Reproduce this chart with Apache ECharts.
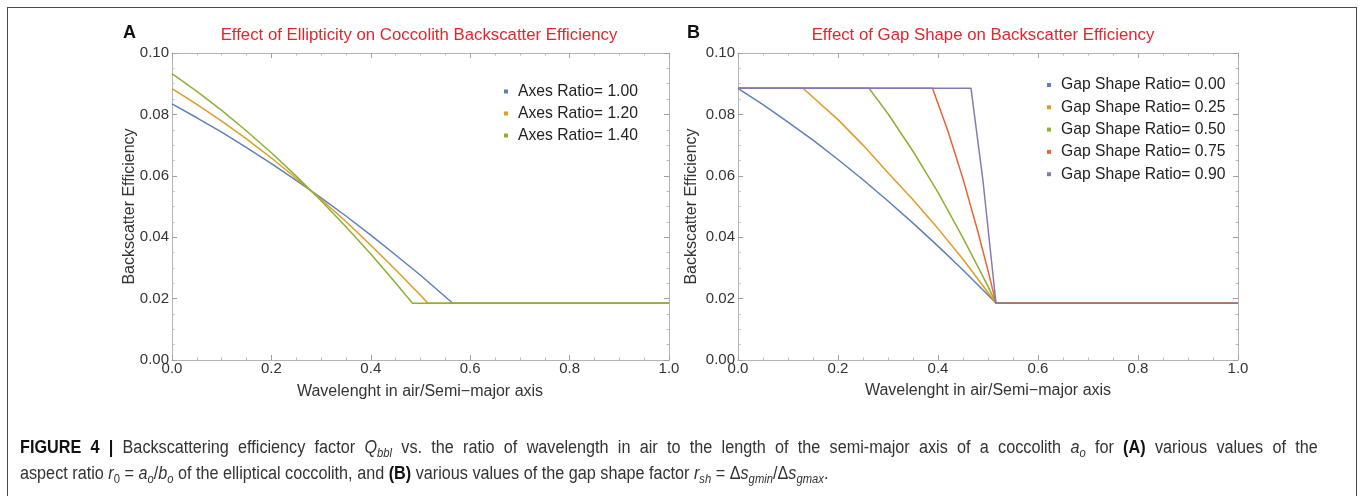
<!DOCTYPE html>
<html>
<head>
<meta charset="utf-8">
<script src="https://cdn.jsdelivr.net/npm/echarts@6/dist/echarts.min.js"></script>
<style>
  html, body { margin:0; padding:0; background:#fff; }
  #wrap { position:relative; width:1360px; height:496px; overflow:hidden; }
  #chart { position:absolute; left:0; top:0; width:1360px; height:496px; }
  #frame { position:absolute; left:7px; top:7px; width:1349.5px; height:520px;
           border:1.5px solid #4a4a4a; border-bottom:none; box-sizing:border-box; }
  #caption { position:absolute; left:20px; top:434px; font-family:"Liberation Sans", Arial, sans-serif;
             font-size:18px; line-height:26px; color:#333; white-space:nowrap;
             transform:scaleX(0.9); transform-origin:0 0; }
  #caption .l1 { width:1442px; text-align:justify; text-align-last:justify; }
  #caption b { color:#111; }
  #caption sub { font-size:12.5px; line-height:0; vertical-align:-4px; }
</style>
</head>
<body>
<div id="wrap">
  <div id="chart"></div>
  <div id="frame"></div>
  <div id="caption">
    <div class="l1"><b>FIGURE 4 |</b> Backscattering efficiency factor <i>Q</i><sub><i>bbl</i></sub> vs. the ratio of wavelength in air to the length of the semi-major axis of a coccolith <i>a</i><sub><i>o</i></sub> for <b>(A)</b> various values of the</div>
    <div class="l2">aspect ratio <i>r</i><sub>0</sub> = <i>a</i><sub><i>o</i></sub>/<i>b</i><sub><i>o</i></sub> of the elliptical coccolith, and <b>(B)</b> various values of the gap shape factor <i>r</i><sub><i>sh</i></sub> = Δ<i>s</i><sub><i>gmin</i></sub>/Δ<i>s</i><sub><i>gmax</i></sub>.</div>
  </div>
</div>
<script>
// ---------- Panel A: effect of ellipticity ----------
const namesA = ['Axes Ratio= 1.00', 'Axes Ratio= 1.20', 'Axes Ratio= 1.40'];
const xA1 = [0, 0.05, 0.1, 0.15, 0.2, 0.25, 0.3, 0.35, 0.4, 0.45, 0.5, 0.565, 1.0];
const yA1 = [0.0834, 0.0789, 0.0742, 0.0692, 0.0640, 0.0585, 0.0528, 0.0469, 0.0407, 0.0342, 0.0276, 0.0185, 0.0185];
const xA2 = [0, 0.05, 0.1, 0.15, 0.2, 0.25, 0.3, 0.35, 0.4, 0.45, 0.5, 0.515, 1.0];
const yA2 = [0.0884, 0.0833, 0.0778, 0.0720, 0.0658, 0.0592, 0.0523, 0.0451, 0.0374, 0.0294, 0.0211, 0.0185, 0.0185];
const xA3 = [0, 0.05, 0.1, 0.15, 0.2, 0.25, 0.3, 0.35, 0.4, 0.45, 0.484, 1.0];
const yA3 = [0.0933, 0.0875, 0.0813, 0.0746, 0.0675, 0.0599, 0.0519, 0.0434, 0.0345, 0.0251, 0.0185, 0.0185];

// ---------- Panel B: effect of gap shape ----------
const namesB = ['Gap Shape Ratio= 0.00', 'Gap Shape Ratio= 0.25', 'Gap Shape Ratio= 0.50', 'Gap Shape Ratio= 0.75', 'Gap Shape Ratio= 0.90'];
const xB1 = [0, 0.05, 0.1, 0.15, 0.2, 0.25, 0.3, 0.35, 0.4, 0.45, 0.5, 0.516, 1.0];
const yB1 = [0.0885, 0.0832, 0.0775, 0.0716, 0.0653, 0.0587, 0.0518, 0.0446, 0.0371, 0.0293, 0.0212, 0.0185, 0.0185];
const xB2 = [0, 0.13, 0.2, 0.25, 0.3, 0.35, 0.4, 0.45, 0.5, 0.516, 1.0];
const yB2 = [0.0885, 0.0885, 0.0783, 0.0700, 0.0610, 0.0522, 0.0428, 0.0328, 0.0220, 0.0185, 0.0185];
const xB3 = [0, 0.262, 0.3, 0.35, 0.4, 0.45, 0.5, 0.516, 1.0];
const yB3 = [0.0885, 0.0885, 0.0802, 0.0680, 0.0546, 0.0398, 0.0240, 0.0185, 0.0185];
const xB4 = [0, 0.389, 0.42, 0.45, 0.48, 0.5, 0.516, 1.0];
const yB4 = [0.0885, 0.0885, 0.0745, 0.0590, 0.0417, 0.0291, 0.0185, 0.0185];
const xB5 = [0, 0.466, 0.49, 0.516, 1.0];
const yB5 = [0.0885, 0.0885, 0.0583, 0.0185, 0.0185];

// ---------- Text ----------
const titleA = 'Effect of Ellipticity on Coccolith Backscatter Efficiency';
const titleB = 'Effect of Gap Shape on Backscatter Efficiency';
const xName = 'Wavelenght in air/Semi\u2212major axis';
const yName = 'Backscatter Efficiency';

const colors = ['#5e81b5', '#e19c24', '#8fb032', '#eb6235', '#8778b3'];
const FONT = '"Liberation Sans", Arial, sans-serif';
const frameColor = '#b4b4b4';

function pairs(xs, ys) { return xs.map((x, i) => [x, ys[i]]); }

function xAxisDef(gridIndex, show) {
  return {
    type: 'value', gridIndex, min: 0, max: 1, interval: 0.2,
    position: show ? 'bottom' : 'top',
    axisLine: { show: true, onZero: false, lineStyle: { color: frameColor, width: 1 } },
    axisTick: { show: true, inside: true, length: 5, lineStyle: { color: '#a0a0a0' } },
    minorTick: { show: true, splitNumber: 4, length: 2.5, lineStyle: { color: '#b8b8b8' } },
    splitLine: { show: false },
    axisLabel: { show: show, margin: 1, color: '#333', fontSize: 15, fontFamily: FONT,
                 formatter: v => v.toFixed(1) }
  };
}
function yAxisDef(gridIndex, show) {
  return {
    type: 'value', gridIndex, min: 0, max: 0.1, interval: 0.02,
    position: show ? 'left' : 'right',
    axisLine: { show: true, onZero: false, lineStyle: { color: frameColor, width: 1 } },
    axisTick: { show: true, inside: true, length: 5, lineStyle: { color: '#a0a0a0' } },
    minorTick: { show: true, splitNumber: 4, length: 2.5, lineStyle: { color: '#b8b8b8' } },
    splitLine: { show: false },
    axisLabel: { show: show, margin: 3, color: '#333', fontSize: 15, fontFamily: FONT,
                 formatter: v => v.toFixed(2) }
  };
}

function lineSeries(name, xs, ys, axisIdx, color) {
  return {
    type: 'line', name, xAxisIndex: axisIdx, yAxisIndex: axisIdx,
    data: pairs(xs, ys), showSymbol: false, symbol: 'rect', symbolSize: 4,
    lineStyle: { color, width: 1.5 }, itemStyle: { color },
    emphasis: { disabled: true }, silent: true
  };
}

function txt(text, x, y, opts) {
  return Object.assign({
    type: 'text', x, y, silent: true,
    style: Object.assign({ text, fill: '#222', font: '16px ' + FONT,
      textAlign: 'center', textVerticalAlign: 'middle', verticalAlign: 'middle' }, opts && opts.style || {})
  }, opts && opts.el || {});
}

const chart = echarts.init(document.getElementById('chart'), null, { renderer: 'canvas' });
chart.setOption({
  animation: false,
  backgroundColor: 'transparent',
  grid: [
    { left: 172, top: 53, width: 497, height: 307, containLabel: false },
    { left: 738, top: 53, width: 500, height: 307, containLabel: false }
  ],
  xAxis: [xAxisDef(0, true), xAxisDef(0, false), xAxisDef(1, true), xAxisDef(1, false)]
    .map((a, i) => Object.assign(a, { gridIndex: i < 2 ? 0 : 1 })),
  yAxis: [yAxisDef(0, true), yAxisDef(0, false), yAxisDef(1, true), yAxisDef(1, false)]
    .map((a, i) => Object.assign(a, { gridIndex: i < 2 ? 0 : 1 })),
  legend: [
    { data: namesA, orient: 'vertical', left: 504, top: 82.5, padding: 0, itemGap: 4,
      icon: 'rect', itemWidth: 4, itemHeight: 4, selectedMode: false,
      textStyle: { fontSize: 15.7, fontFamily: FONT, color: '#222', lineHeight: 18, padding: [0, 0, 0, 5] } },
    { data: namesB, orient: 'vertical', left: 1047, top: 76, padding: 0, itemGap: 4.3,
      icon: 'rect', itemWidth: 4, itemHeight: 4, selectedMode: false,
      textStyle: { fontSize: 15.7, fontFamily: FONT, color: '#222', lineHeight: 18, padding: [0, 0, 0, 5] } }
  ],
  series: [
    lineSeries(namesA[0], xA1, yA1, 0, colors[0]),
    lineSeries(namesA[1], xA2, yA2, 0, colors[1]),
    lineSeries(namesA[2], xA3, yA3, 0, colors[2]),
    lineSeries(namesB[0], xB1, yB1, 2, colors[0]),
    lineSeries(namesB[1], xB2, yB2, 2, colors[1]),
    lineSeries(namesB[2], xB3, yB3, 2, colors[2]),
    lineSeries(namesB[3], xB4, yB4, 2, colors[3]),
    lineSeries(namesB[4], xB5, yB5, 2, colors[4])
  ],
  graphic: [
    txt('A', 123, 33, { style: { font: 'bold 18px ' + FONT, fill: '#111', textAlign: 'left' } }),
    txt('B', 687, 33, { style: { font: 'bold 18px ' + FONT, fill: '#111', textAlign: 'left' } }),
    txt(titleA, 419, 35, { style: { fill: '#e3262b', font: '16.8px ' + FONT } }),
    txt(titleB, 983, 35, { style: { fill: '#e3262b', font: '16.8px ' + FONT } }),
    txt(xName, 420, 392, { style: { fill: '#333' } }),
    txt(xName, 988, 391, { style: { fill: '#333' } }),
    txt(yName, 129.5, 206.5, { style: { fill: '#333' }, el: { rotation: Math.PI / 2 } }),
    txt(yName, 692, 206.5, { style: { fill: '#333' }, el: { rotation: Math.PI / 2 } })
  ]
});
</script>
</body>
</html>
